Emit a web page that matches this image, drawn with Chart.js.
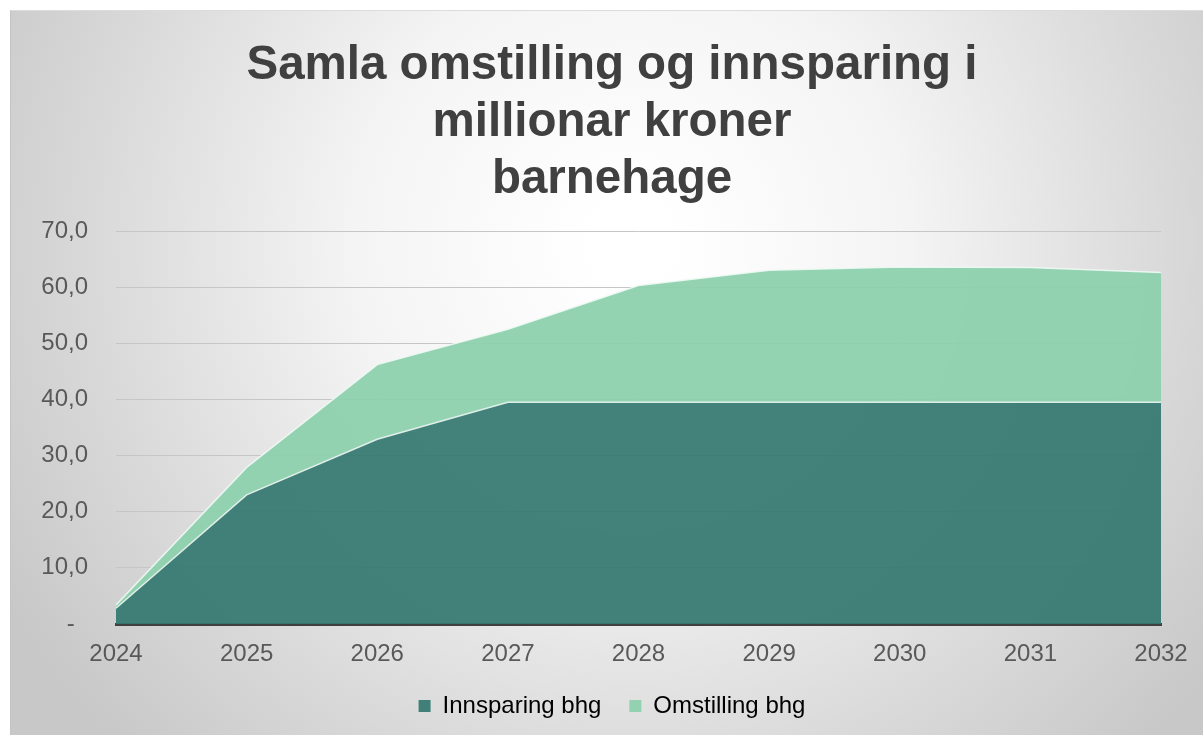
<!DOCTYPE html>
<html>
<head>
<meta charset="utf-8">
<script src="https://cdn.jsdelivr.net/npm/chart.js@4"></script>
<style>
    html, body { margin: 0; padding: 0; background: #ffffff; }
    #wrap {
        position: absolute; left: 10px; top: 10px;
        width: 1193px; height: 725px;
        border-left: 1px solid #c4c4c4; border-top: 1px solid #dcdcdc;
    }
</style>
</head>
<body>
<div id="wrap"><canvas id="omstillingChart"></canvas></div>
<script>
// Samla omstilling og innsparing - barnehage (mill. kr)
const years = ['2024', '2025', '2026', '2027', '2028', '2029', '2030', '2031', '2032'];
const innsparing = [2.8, 23.0, 32.9, 39.5, 39.5, 39.5, 39.5, 39.5, 39.5];
const omstilling = [0.6, 4.9, 13.3, 13.0, 20.8, 23.5, 24.1, 24.0, 23.1];
const titleLines = ['Samla omstilling og innsparing i', 'millionar kroner', 'barnehage'];

const FONT = "'Liberation Sans', Arial, sans-serif";

// soft radial background like the Excel chart style
const bgPlugin = {
    id: 'bgGradient',
    beforeDraw(chart) {
        const { ctx, width, height } = chart;
        ctx.save();
        const g = ctx.createRadialGradient(620, 230, 40, 620, 230, 720);
        g.addColorStop(0, '#ffffff');
        g.addColorStop(0.35, '#f4f4f4');
        g.addColorStop(0.75, '#d8d8d8');
        g.addColorStop(1, '#c8c8c8');
        ctx.fillStyle = g;
        ctx.fillRect(0, 0, width, height);
        ctx.restore();
    }
};

const ctx = document.getElementById('omstillingChart');
new Chart(ctx, {
    type: 'line',
    data: {
        labels: years,
        datasets: [{
            label: 'Innsparing bhg',
            data: innsparing,
            borderColor: 'rgba(235,245,242,0.9)',
            borderWidth: 1.5,
            backgroundColor: 'rgba(52,120,112,0.93)',
            fill: 'origin',
            pointRadius: 0,
            tension: 0
        }, {
            label: 'Omstilling bhg',
            data: omstilling,
            borderColor: 'rgba(240,250,245,0.9)',
            borderWidth: 1.5,
            backgroundColor: 'rgba(142,209,173,0.95)',
            fill: '-1',
            pointRadius: 0,
            tension: 0
        }]
    },
    options: {
        responsive: true,
        maintainAspectRatio: false,
        animation: false,
        layout: { padding: { left: 9, right: 0, top: 0, bottom: 8 } },
        plugins: {
            title: {
                display: true,
                text: titleLines,
                color: '#404040',
                font: { family: FONT, size: 47.5, weight: 'bold', lineHeight: 1.2 },
                padding: { top: 26, bottom: 23 }
            },
            legend: {
                display: true,
                position: 'bottom',
                labels: {
                    color: '#595959',
                    font: { family: FONT, size: 24 },
                    boxWidth: 12,
                    boxHeight: 12,
                    padding: 28,
                    generateLabels: (chart) => chart.data.datasets.map((ds, i) => ({
                        text: ds.label,
                        fillStyle: ds.backgroundColor,
                        strokeStyle: ds.backgroundColor,
                        lineWidth: 0,
                        datasetIndex: i
                    }))
                }
            },
            tooltip: { enabled: false }
        },
        scales: {
            x: {
                afterFit: (scale) => { scale.height = 42; },
                grid: { display: false, drawTicks: false },
                border: { display: true, color: '#404040', width: 3 },
                ticks: {
                    color: '#595959',
                    font: { family: FONT, size: 24 },
                    padding: 16,
                    maxRotation: 0
                }
            },
            y: {
                stacked: true,
                min: 0,
                max: 70,
                afterFit: (scale) => { scale.width = 96; },
                grid: { color: '#c6c6c6', lineWidth: 1, drawTicks: false },
                border: { display: false },
                ticks: {
                    stepSize: 10,
                    color: '#595959',
                    font: { family: FONT, size: 24 },
                    padding: 28,
                    callback: (v) => v === 0 ? '-  ' : v.toFixed(1).replace('.', ',')
                }
            },
            // empty right-hand spacer so the plot ends where the reference does
            yRight: {
                position: 'right',
                afterFit: (scale) => { scale.width = 43; },
                grid: { display: false, drawTicks: false },
                border: { display: false },
                ticks: { display: false }
            }
        }
    },
    plugins: [bgPlugin]
});
</script>
</body>
</html>
